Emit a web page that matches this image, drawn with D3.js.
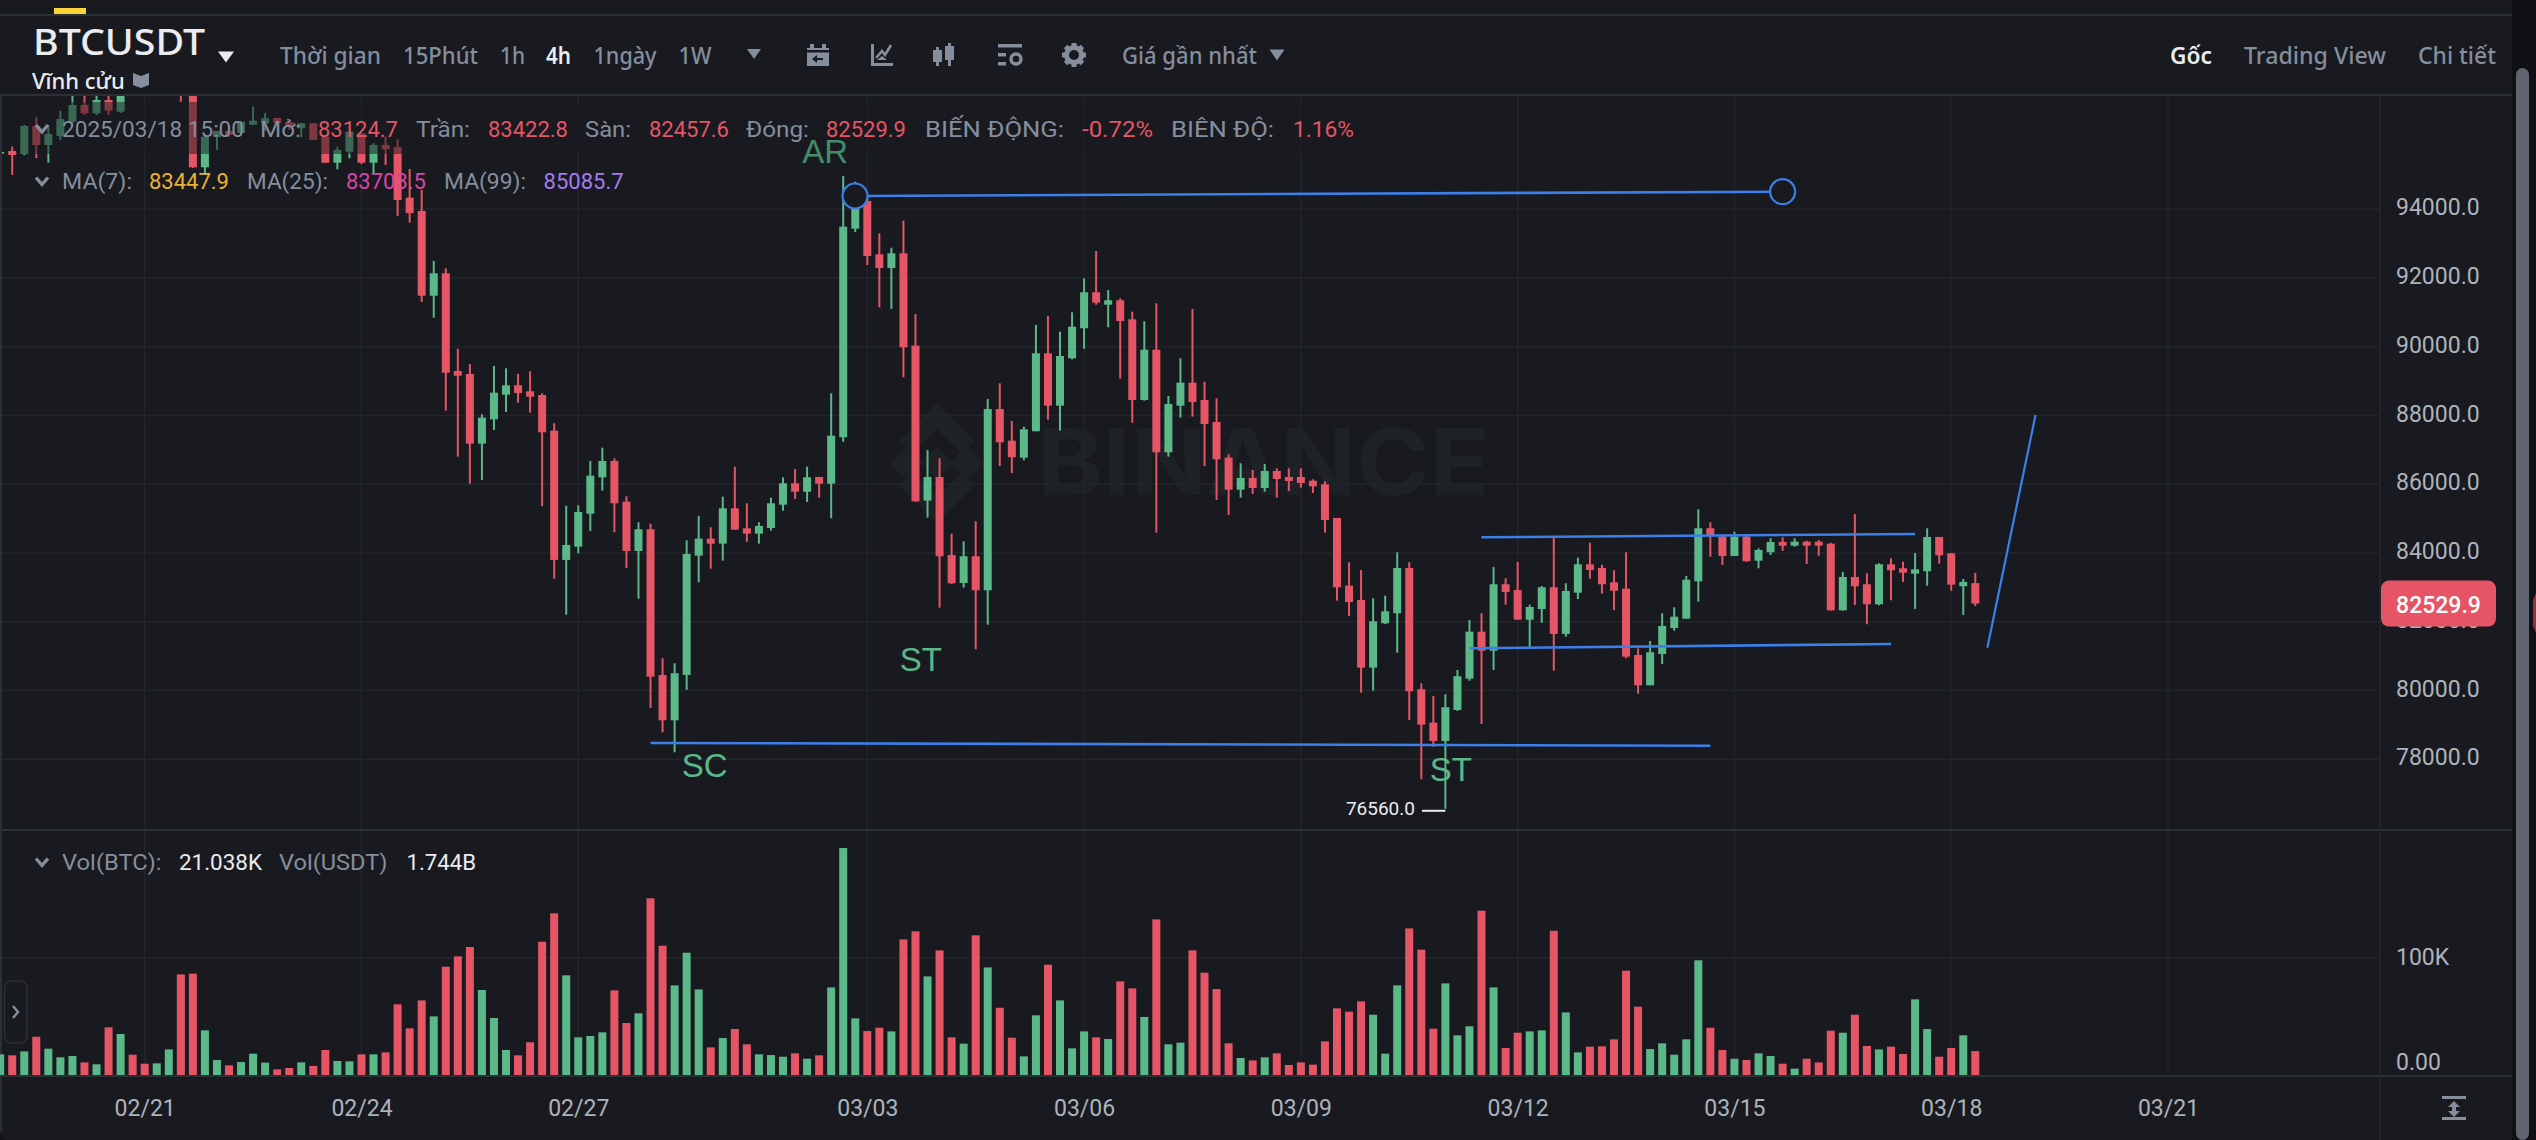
<!DOCTYPE html>
<html>
<head>
<meta charset="utf-8">
<script src="https://cdn.jsdelivr.net/npm/d3@7"></script>
<style>
  html, body { margin: 0; padding: 0; background: #0f1115; overflow: hidden; }
  svg { display: block; }
  .num { font-family: Roboto, sans-serif; }
  .hdr { font-family: "Noto Sans", sans-serif; }
</style>
</head>
<body>
<div id="chart"></div>
<script>
// velas de 4h, el primer elemento es el indice -12 (02/21 = indice 0)
const firstIndex = -12;
const opens = [95638,95696,95609,96424,95871,96133,96549,97035,96793,97180,96840,98000,98100,97800,98400,99000,97700,95222,96104,96278,96220,96461,
  96502,96656,96540,96357,96502,96112,95356,95676,96211,95356,95871,95804,94338,93951,91487,92139,89297,89209,87182,87891,
  88607,88881,88706,88598,87560,83799,84186,85145,86204,86679,85495,84060,84692,80453,79135,80453,83923,84418,84273,85302,
  84721,84564,84729,85407,86030,85785,86213,86018,87368,93436,94242,92691,92293,92720,90033,85524,86213,83944,83130,83906,
  82917,88191,87269,86775,87543,89811,88287,89666,90539,91586,91225,91353,90800,88453,89916,86932,88287,88956,88453,87813,
  86774,85843,86184,85893,86387,86213,86213,86105,85999,85020,83051,82635,80666,81957,82248,83566,80037,79066,78533,79435,
  80346,81713,81160,83092,82925,82062,82373,83005,81646,82848,83673,83566,83150,82964,81035,80153,81064,81820,82092,83179,
  84721,84476,83915,84476,83778,84023,84322,84214,84331,84331,84273,82335,83304,83092,82510,83673,83557,83400,83470,84468,
  83993,83034,83124.7];
const highs = [95680,95822,96453,96677,96453,96869,97471,97413,97413,97413,97700,98200,98400,98500,99200,99500,97900,96191,96278,96365,96569,96985,
  96802,96656,96569,96511,96502,96133,95822,96258,96220,95920,96112,96037,95173,94562,92497,92284,89945,89500,88037,89442,
  89375,89209,89288,88648,87775,85378,85390,86679,87066,86757,85651,84895,84855,80939,80793,84372,85078,84750,85640,86513,
  85448,84895,85611,86204,86446,86513,86213,88648,94969,94803,94367,93302,92883,93669,90955,86999,86757,84564,84342,84924,
  88482,88938,87842,87676,90635,90897,90440,91004,91993,92787,91653,91411,91022,90742,91266,88569,89666,91100,88985,88502,
  86873,86612,86416,86591,86466,86466,86466,86146,86088,85020,83731,83508,82684,82760,84022,83731,80212,79842,79892,80599,
  82053,82248,83595,83266,83740,82498,83042,84459,83121,83866,84302,83662,83499,84022,81230,81442,82248,82422,83333,85274,
  84895,84496,84622,84496,84139,84430,84459,84430,84360,84380,84302,83450,85137,83411,83702,83848,83749,84002,84721,84468,
  83993,83246,83422.8];
const lows = [95610,94998,95580,95493,95356,96016,96511,96744,96744,96744,96800,97600,97700,97600,98200,97130,95200,95056,95725,96104,96191,96453,
  96278,96453,96307,96104,96016,95347,95164,95484,95318,95048,95289,93806,93611,91304,90847,88142,86804,86018,86126,87580,
  88104,88374,88084,85369,83255,82207,83993,84642,85814,84604,83566,82673,79494,78786,78204,80017,83149,83546,83778,84680,
  84331,84273,84651,85233,85573,85486,85611,85011,87240,93340,92380,91150,91100,89113,85486,85029,82411,83100,82993,81200,
  81916,86533,86329,86699,87543,87880,87560,89637,89945,91225,90568,89073,87792,88433,84592,86804,87938,87967,86533,85544,
  85108,85611,85718,85786,85611,85806,85902,85748,84592,82614,82170,79938,79996,81937,81102,79143,77419,78367,76560,79406,
  80287,79028,80599,82498,82062,81276,81974,80579,81567,82664,83255,82819,82344,80939,79909,80153,80773,81741,82092,82586,
  83895,83652,83915,83749,83557,83944,84060,84185,83682,83923,82324,82324,82490,81928,82481,82626,83159,82373,83051,83691,
  82905,82199,82457.6];
const closes = [95667,95580,96424,95871,96191,96627,97035,96793,97180,96869,97500,97700,97800,98400,99000,97700,95222,96112,96278,96162,96549,96578,
  96648,96511,96424,96502,96016,95356,95726,96258,95356,95871,95746,94271,93893,91487,92139,89247,89160,87182,87938,88665,
  88881,88657,88549,87513,83799,84235,85195,86251,86679,85448,84060,84692,80403,79135,80503,83973,84418,84273,85302,84680,
  84564,84788,85448,86030,85785,86204,86018,87415,93494,94242,92642,92293,92720,89986,85506,86213,83906,83121,83906,82917,
  88191,87223,86786,87601,89811,88287,89733,90585,91586,91284,91353,90751,88453,89916,86932,88337,88956,88395,87755,86728,
  85843,86184,85893,86387,86155,86097,86039,85942,84962,83005,82577,80666,82015,82306,83566,79979,79007,78533,79514,80416,
  81713,81160,83092,82868,82062,82431,83005,81646,82897,83673,83508,83092,82905,80985,80153,81114,81878,82149,83225,84721,
  84526,83915,84476,83760,84090,84322,84214,84331,84214,84214,82335,83304,83034,82510,83673,83499,83429,83528,84468,83935,
  83080,83159,82529.9];
// volumen en miles de BTC
const volumes = [18.3,17.5,20.8,33.2,23.1,15.8,16.9,11.5,9.9,41.1,35.5,18.0,10.4,10.7,22.5,85.9,86.5,38.6,13.5,9.0,11.8,18.9,11.3,5.6,6.8,
  11.5,8.5,22.0,12.7,12.4,18.3,18.3,20.0,60.6,40.3,63.9,50.4,92.4,101.1,109.0,72.7,49.0,22.0,17.5,28.5,113.5,137.5,85.1,32.7,33.8,
  36.9,72.4,44.8,53.0,150.2,110.1,76.6,104.2,73.2,24.2,32.1,39.7,26.8,18.3,17.7,16.3,19.2,14.6,17.5,74.9,192.7,
  48.7,38.0,40.8,37.7,115.5,122.3,84.2,106.2,32.7,27.3,118.9,91.8,57.7,32.4,16.6,51.3,94.1,63.9,23.4,37.7,32.7,31.3,80.0,74.1,49.9,
  132.4,26.8,28.2,106.2,87.3,73.5,27.6,15.2,13.2,15.8,19.2,9.3,11.5,9.6,29.3,57.2,54.4,63.1,51.8,18.9,76.6,124.8,106.8,40.0,78.3,34.4,
  42.0,139.7,74.9,23.7,36.6,37.7,38.6,122.8,53.8,20.0,24.8,25.1,31.0,89.0,58.6,22.8,27.6,18.0,31.0,97.8,
  40.8,22.0,14.6,13.5,19.2,16.9,10.4,6.2,14.6,11.5,38.3,36.6,51.8,25.4,22.5,24.8,18.6,64.8,39.7,16.3,23.7,34.4,21.038];

// etiquetas de los ejes
const dateTickIndex = [0, 18, 36, 60, 78, 96, 114, 132, 150, 168];
const dateTickLabels = ["02/21", "02/24", "02/27", "03/03", "03/06", "03/09", "03/12", "03/15", "03/18", "03/21"];
const priceTicks = [94000, 92000, 90000, 88000, 86000, 84000, 82000, 80000, 78000];
const volumeTicks = [100, 0];

// lineas dibujadas a mano sobre el grafico: [indice, precio]
const trendLines = [
  [[58.98, 94387], [136, 94512]],
  [[42, 78475], [130, 78396]],
  [[111, 84459], [147, 84555]],
  [[110, 81230], [145, 81354]]
];
const breakoutLine = [[153, 81247], [157, 88017]];
const handleCircles = [[58.98, 94387], [136, 94512]];
const wyckoffLabels = [["SC", 44.6, 77484], ["ST", 62.7, 80569], ["ST", 106.7, 77370]];
const lastPrice = 82529.9;
const lowPrice = 76560;

const width = 2536, height = 1140;
const bg = "#181a20", rule = "#2b3036", grid = "#22252b";
const up = "#5bb888", down = "#e65565", blue = "#3c7fe8";
const gray = "#848e9c", axisGray = "#aeb3bb", white = "#eaecef";

const x = d3.scaleLinear().domain([0, 168]).range([144.7, 2168]);
const priceY = d3.scaleLinear().domain([78000, 94000]).range([759.3, 209.3]);
const volY = d3.scaleLinear().domain([0, 100]).range([1076, 957.7]);

const svg = d3.select("#chart").append("svg").attr("width", width).attr("height", height);
svg.append("rect").attr("width", width).attr("height", height).attr("fill", "#0f1115");
svg.append("rect").attr("width", 2512).attr("height", height).attr("fill", bg);

const defs = svg.append("defs");
defs.append("clipPath").attr("id", "plot").append("rect")
  .attr("x", 2).attr("y", 96).attr("width", 2378).attr("height", 733);

// marca de agua
const wm = svg.append("g").attr("fill", "#1e2126");
wm.append("text").attr("x", 1037).attr("y", 495).text("BINANCE")
  .attr("font-family", "Inter, sans-serif").attr("font-weight", 700)
  .attr("font-size", 92).attr("textLength", 453).attr("lengthAdjust", "spacingAndGlyphs");
wm.append("path").attr("d", "M937 403L975 441L962 454L937 429L912 454L899 441Z");
wm.append("path").attr("d", "M937 523L975 485L962 472L937 497L912 472L899 485Z");
wm.append("path").attr("d", "M937 446L954 463L937 480L920 463Z");
wm.append("path").attr("d", "M907 446L924 463L907 480L890 463Z");
wm.append("path").attr("d", "M967 446L984 463L967 480L950 463Z");

// reticula
svg.append("g").selectAll("line").data(dateTickIndex).join("line")
  .attr("x1", (d) => x(d)).attr("x2", (d) => x(d))
  .attr("y1", 96).attr("y2", 1076)
  .attr("stroke", grid).attr("stroke-width", 1.5);
svg.append("g").selectAll("line").data(priceTicks).join("line")
  .attr("x1", 2).attr("x2", 2380)
  .attr("y1", (d) => priceY(d)).attr("y2", (d) => priceY(d))
  .attr("stroke", grid).attr("stroke-width", 1.5);
svg.append("line").attr("x1", 2).attr("x2", 2380)
  .attr("y1", volY(100)).attr("y2", volY(100))
  .attr("stroke", grid).attr("stroke-width", 1.5);

// separadores del panel
[15, 95, 830, 1076].forEach((y) => {
  svg.append("line").attr("x1", 0).attr("x2", 2512).attr("y1", y).attr("y2", y)
    .attr("stroke", rule).attr("stroke-width", 2);
});
svg.append("line").attr("x1", 2380).attr("x2", 2380).attr("y1", 96).attr("y2", height)
  .attr("stroke", "#25282e").attr("stroke-width", 1.5);
svg.append("line").attr("x1", 1).attr("x2", 1).attr("y1", 96).attr("y2", height - 8)
  .attr("stroke", rule).attr("stroke-width", 2);
svg.append("rect").attr("x", 54).attr("y", 8).attr("width", 32).attr("height", 6).attr("fill", "#fcd535");

// datos de las velas
const bars = opens.map((o, i) => ({
  i: i + firstIndex, o, h: highs[i], l: lows[i], c: closes[i], v: volumes[i]
}));
const color = (d) => (d.c >= d.o ? up : down);

// volumen
svg.append("g").selectAll("rect").data(bars).join("rect")
  .attr("x", (d) => x(d.i) - 4).attr("width", 8)
  .attr("y", (d) => volY(d.v)).attr("height", (d) => volY(0) - volY(d.v) - 1)
  .attr("fill", color);

// velas
const candles = svg.append("g").attr("clip-path", "url(#plot)");
candles.selectAll("line").data(bars).join("line")
  .attr("x1", (d) => x(d.i)).attr("x2", (d) => x(d.i))
  .attr("y1", (d) => priceY(d.h)).attr("y2", (d) => priceY(d.l))
  .attr("stroke", color).attr("stroke-width", 2);
candles.selectAll("rect").data(bars).join("rect")
  .attr("x", (d) => x(d.i) - 4).attr("width", 8)
  .attr("y", (d) => priceY(Math.max(d.o, d.c)))
  .attr("height", (d) => Math.max(1.5, Math.abs(priceY(d.o) - priceY(d.c))))
  .attr("fill", color);

// banda oscura detras de la primera linea de la leyenda
svg.append("rect").attr("x", 20).attr("y", 102).attr("width", 1340).attr("height", 52)
  .attr("fill", bg).attr("opacity", 0.5);

const plainLabel = (sel, t, xx, yy, f) => sel.append("text").attr("x", xx).attr("y", yy).text(t)
  .attr("font-family", "'Liberation Sans', sans-serif").attr("font-size", 33).attr("fill", f);
// AR queda apagada por la banda de la leyenda
plainLabel(svg, "AR", x(54.6), priceY(95347), "#438b69");

// lineas manuales
const line = d3.line().x((d) => x(d[0])).y((d) => priceY(d[1]));
svg.append("g").selectAll("path").data(trendLines).join("path")
  .attr("d", line).attr("fill", "none").attr("stroke", blue).attr("stroke-width", 2.6);
svg.append("path").attr("d", line(breakoutLine)).attr("fill", "none")
  .attr("stroke", blue).attr("stroke-width", 2.2);
svg.append("g").selectAll("circle").data(handleCircles).join("circle")
  .attr("cx", (d) => x(d[0])).attr("cy", (d) => priceY(d[1])).attr("r", 12.5)
  .attr("fill", bg).attr("stroke", blue).attr("stroke-width", 2.2);

wyckoffLabels.forEach((d) => plainLabel(svg, d[0], x(d[1]), priceY(d[2]), up));

// minimo de la ventana
svg.append("text").attr("class", "num").attr("x", 1415).attr("y", priceY(lowPrice)).attr("dy", "0.34em")
  .attr("text-anchor", "end").attr("font-size", 19).attr("fill", white).text(lowPrice.toFixed(1));
svg.append("line").attr("x1", 1422).attr("x2", x(108)).attr("y1", priceY(lowPrice) + 2).attr("y2", priceY(lowPrice) + 2)
  .attr("stroke", white).attr("stroke-width", 2);

// ejes
const priceAxis = svg.append("g").attr("class", "num").attr("transform", "translate(2396,-1.7)")
  .call(d3.axisRight(priceY).tickValues(priceTicks).tickSize(0).tickPadding(0).tickFormat((d) => d.toFixed(1)));
const volAxis = svg.append("g").attr("class", "num").attr("transform", "translate(2396,-1)")
  .call(d3.axisRight(volY).tickValues(volumeTicks).tickSize(0).tickPadding(0)
    .tickFormat((d) => (d === 0 ? "0.00" : d + "K")));
volAxis.selectAll("text").filter((d) => d === 0).attr("dy", "-0.22em");
const dateAxis = svg.append("g").attr("class", "num").attr("transform", "translate(0,1100)")
  .call(d3.axisBottom(x).tickValues(dateTickIndex).tickSize(0).tickPadding(0)
    .tickFormat((d) => dateTickLabels[dateTickIndex.indexOf(d)]));
[priceAxis, volAxis, dateAxis].forEach((a) => {
  a.select(".domain").remove();
  a.selectAll("text").attr("fill", axisGray).attr("font-size", 23)
    .style("font-family", "Roboto, sans-serif");
});

// precio actual
svg.append("rect").attr("x", 2381).attr("y", priceY(lastPrice) - 23).attr("width", 115).attr("height", 46)
  .attr("rx", 8).attr("fill", down);
svg.append("text").attr("class", "num").attr("x", 2438.5).attr("y", priceY(lastPrice) + 1).attr("dy", "0.35em")
  .attr("text-anchor", "middle").attr("font-size", 23).attr("font-weight", 500).attr("fill", "#fff")
  .text(lastPrice.toFixed(1));

// leyendas: [x, texto, color, ancho]
function legendRow(y, items) {
  const g = svg.append("g").attr("class", "num").attr("font-size", 22);
  g.selectAll("text").data(items).join("text")
    .attr("x", (d) => d[0]).attr("y", y).attr("dy", "0.35em")
    .attr("fill", (d) => d[2])
    .attr("textLength", (d) => d[3])
    .attr("lengthAdjust", "spacingAndGlyphs")
    .text((d) => d[1]);
  g.append("path").attr("d", `M36 ${y - 4}L42 ${y + 3}L48 ${y - 4}`)
    .attr("fill", "none").attr("stroke", gray).attr("stroke-width", 3.4);
}
legendRow(129, [
  [62, "2025/03/18 15:00", gray, 182], [260, "Mở:", gray, 41], [318, "83124.7", down, 80],
  [416, "Trần:", gray, 54], [488, "83422.8", down, 80], [585, "Sàn:", gray, 46], [649, "82457.6", down, 80],
  [746, "Đóng:", gray, 63], [826, "82529.9", down, 80], [925, "BIẾN ĐỘNG:", gray, 139], [1082, "-0.72%", down, 71],
  [1171, "BIÊN ĐỘ:", gray, 103], [1293, "1.16%", down, 61]
]);
legendRow(181.5, [
  [62, "MA(7):", gray, 70], [149, "83447.9", "#e9b431", 80], [247, "MA(25):", gray, 81], [346, "83703.5", "#d845a8", 80],
  [444, "MA(99):", gray, 82], [543.6, "85085.7", "#a27cf0", 80]
]);
legendRow(862.5, [
  [62, "Vol(BTC):", gray, 99.5], [179, "21.038K", white, 83], [279, "Vol(USDT)", gray, 108.5], [406.5, "1.744B", white, 69.5]
]);

// cabecera
const hdr = svg.append("g").attr("class", "hdr");
hdr.append("text").attr("x", 33).attr("y", 41.7).attr("dy", "0.36em").attr("font-size", 37)
  .attr("font-weight", 500).attr("fill", white)
  .attr("textLength", 172).attr("lengthAdjust", "spacingAndGlyphs").text("BTCUSDT");
hdr.append("text").attr("x", 32).attr("y", 81).attr("dy", "0.35em").attr("font-size", 22)
  .attr("font-weight", 500).attr("fill", white).text("Vĩnh cửu");
[[280, "Thời gian", gray, 500, 101], [403, "15Phút", gray, 500, 75], [500, "1h", gray, 500, 25], [546, "4h", white, 600, 25],
 [593.5, "1ngày", gray, 500, 63], [678.6, "1W", gray, 500, 33], [1122, "Giá gần nhất", gray, 500, 135],
 [2170, "Gốc", white, 600, 42], [2244, "Trading View", gray, 500, 142], [2418, "Chi tiết", gray, 500, 78]]
  .forEach((d) => {
    hdr.append("text").attr("x", d[0]).attr("y", 56).attr("dy", "0.35em").attr("font-size", 23)
      .attr("font-weight", d[3]).attr("fill", d[2])
      .attr("textLength", d[4]).attr("lengthAdjust", "spacingAndGlyphs").text(d[1]);
  });

// iconos de la barra
const tri = (cx, cy, w, h, f) => svg.append("path")
  .attr("d", `M${cx - w / 2} ${cy - h / 2}H${cx + w / 2}L${cx} ${cy + h / 2}Z`).attr("fill", f);
tri(226, 57, 16, 11, white);
tri(754, 54, 14, 10, gray);
tri(1277, 55, 15, 11, gray);

const ic = svg.append("g").attr("fill", gray);
// calendario
ic.append("path").attr("d", "M807 48h22v18h-22zM810 44h4v4h-4zM822 44h4v4h-4z");
ic.append("rect").attr("x", 807).attr("y", 50).attr("width", 22).attr("height", 2.5).attr("fill", bg);
ic.append("path").attr("d", "M812 59l5 -4v3h6v2h-6v3z").attr("fill", bg);
// indicadores
ic.append("path").attr("d", "M871 44h3v19h19v3h-22z");
ic.append("path").attr("d", "M876 58l6 -7l3 4l6 -10").attr("fill", "none").attr("stroke", gray).attr("stroke-width", 2.6);
ic.append("path").attr("d", "M877 60l5 -4l5 4z");
// velas
ic.append("path").attr("d", "M933 50h3v-3h3v3h3v12h-3v4h-3v-4h-3zM945 46h3v-3h3v3h3v14h-3v6h-3v-6h-3z");
// plantilla
ic.append("path").attr("d", "M998 44h24v3.5h-24zM998 53h8v3.5h-8zM998 62h8v3.5h-8z");
ic.append("circle").attr("cx", 1016).attr("cy", 59).attr("r", 5).attr("fill", "none")
  .attr("stroke", gray).attr("stroke-width", 3.4);
// ajustes
ic.append("circle").attr("cx", 1074).attr("cy", 55).attr("r", 7.5).attr("fill", "none")
  .attr("stroke", gray).attr("stroke-width", 5);
d3.range(8).forEach((k) => {
  ic.append("rect").attr("x", 1071.5).attr("y", 43).attr("width", 5).attr("height", 5)
    .attr("transform", `rotate(${k * 45} 1074 55)`);
});
// libro
ic.append("path").attr("d", "M133 73l8 3l8 -3v12l-8 3l-8 -3z");
// restablecer escala
ic.append("path").attr("d", "M2442 1096h24v3h-24zM2442 1117h24v3h-24zM2454 1101l6 6h-4v4h4l-6 6l-6 -6h4v-4h-4z");

// boton lateral del volumen
svg.append("rect").attr("x", 4.5).attr("y", 981).attr("width", 22.5).attr("height", 62).attr("rx", 7)
  .attr("fill", bg).attr("stroke", rule).attr("stroke-width", 1.5);
svg.append("path").attr("d", "M13 1006l5 6l-5 6").attr("fill", "none").attr("stroke", gray).attr("stroke-width", 2.4);

// esquina inferior izquierda y barra de desplazamiento
svg.append("path").attr("d", "M0 1132Q0 1140 8 1140H0Z").attr("fill", "#0f1115");
svg.append("rect").attr("x", 2516).attr("y", 68).attr("width", 13).attr("height", 1072).attr("rx", 6.5).attr("fill", "#5e6470");
svg.append("path").attr("d", "M2536 593L2533 600V626L2536 633Z").attr("fill", "#8c3442");
</script>
</body>
</html>
